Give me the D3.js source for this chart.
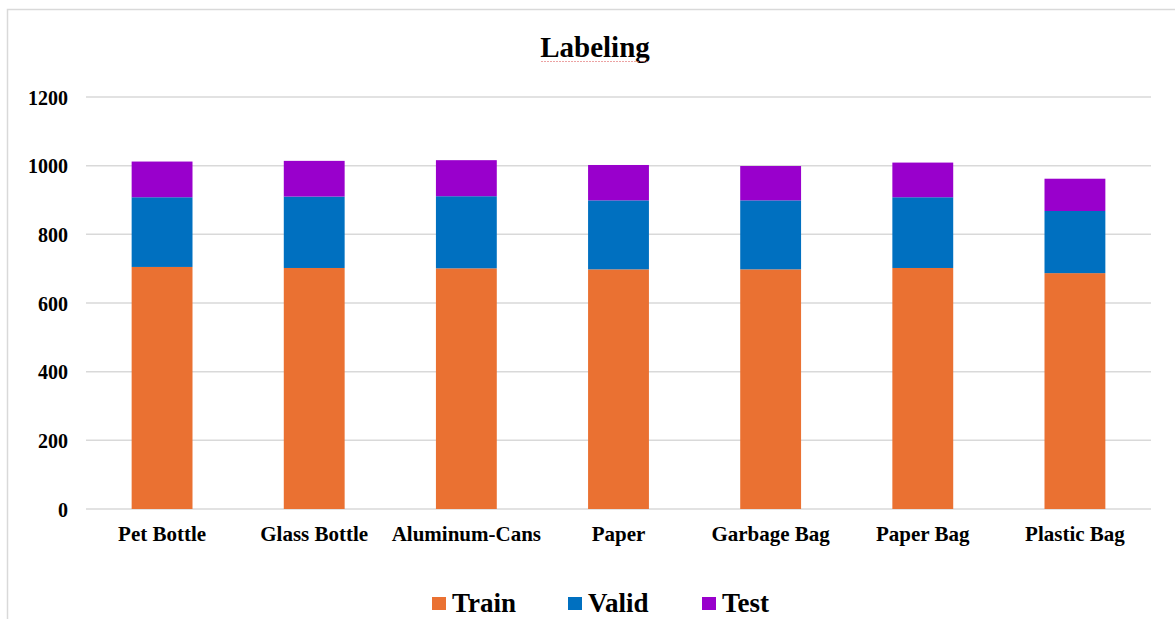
<!DOCTYPE html>
<html>
<head>
<meta charset="utf-8">
<script src="https://cdn.jsdelivr.net/npm/d3@7"></script>
<style>
  html, body { margin: 0; padding: 0; background: #fff; }
  svg { display: block; }
  text { font-family: "Liberation Serif", "Times New Roman", serif; font-weight: bold; fill: #000; }
</style>
</head>
<body>
<svg id="chart" width="1175" height="619"></svg>
<script>
// Image counts per class, split into train / valid / test
const categories = ["Pet Bottle", "Glass Bottle", "Aluminum-Cans", "Paper", "Garbage Bag", "Paper Bag", "Plastic Bag"];
const train = [705, 702, 701, 698, 698, 702, 687];
const valid = [203, 208, 210, 201, 201, 206, 181];
const test  = [104, 104, 105, 103, 100, 101, 94];
const seriesNames = ["Train", "Valid", "Test"];
const seriesColors = ["#ea7132", "#0070c0", "#9900cc"];
const yTicks = [0, 200, 400, 600, 800, 1000, 1200];

const svg = d3.select("#chart");
const W = 1175, H = 619;

// chart frame
svg.append("path")
  .attr("d", `M7.5,${H} V9.5 H${W}`)
  .attr("fill", "none").attr("stroke", "#d9d9d9").attr("stroke-width", 1.5);

const plot = { left: 86, right: 1151, top: 97, bottom: 509 };

const x = d3.scaleBand().domain(categories)
  .range([plot.left, plot.right]).paddingInner(0.6).paddingOuter(0.3);
const y = d3.scaleLinear().domain([0, 1200]).range([plot.bottom, plot.top]);

// gridlines
svg.append("g").selectAll("line").data(yTicks).join("line")
  .attr("x1", plot.left).attr("x2", plot.right)
  .attr("y1", d => y(d)).attr("y2", d => y(d))
  .attr("stroke", "#d9d9d9").attr("stroke-width", 1.5);

// y axis labels
const yAxis = d3.axisLeft(y).tickValues(yTicks).tickFormat(d3.format("d")).tickSize(0).tickPadding(0);
const gy = svg.append("g").attr("transform", `translate(68,0)`).call(yAxis);
gy.select(".domain").remove();
gy.selectAll("text").attr("font-size", 20).attr("dy", "0.35em")
  .style("font-family", "'Liberation Serif', serif").style("font-weight", "bold").attr("fill", "#000");

// stacked bars
const rows = categories.map((c, i) => ({ cat: c, Train: train[i], Valid: valid[i], Test: test[i] }));
const stack = d3.stack().keys(seriesNames)(rows);
svg.append("g").selectAll("g").data(stack).join("g")
  .attr("fill", (d, i) => seriesColors[i])
  .selectAll("rect").data(d => d).join("rect")
  .attr("x", d => x(d.data.cat))
  .attr("width", x.bandwidth())
  .attr("y", d => y(d[1]))
  .attr("height", d => y(d[0]) - y(d[1]));

// x axis labels
const xAxis = d3.axisBottom(x).tickSize(0).tickPadding(0);
const gx = svg.append("g").attr("transform", `translate(0,${plot.bottom + 32})`).call(xAxis);
gx.select(".domain").remove();
gx.selectAll("text").attr("font-size", 21).attr("dy", 0)
  .style("font-family", "'Liberation Serif', serif").style("font-weight", "bold").attr("fill", "#000");

// title
svg.append("text").attr("x", 595).attr("y", 57).attr("text-anchor", "middle")
  .attr("font-size", 29).text("Labeling");
svg.append("line").attr("x1", 541).attr("x2", 649).attr("y1", 61.5).attr("y2", 61.5)
  .attr("stroke", "#e06666").attr("stroke-opacity", 0.6).attr("stroke-width", 1)
  .attr("stroke-dasharray", "2,1");

// legend
const legendX = [432, 568, 702];
const lg = svg.append("g").selectAll("g").data(seriesNames).join("g")
  .attr("transform", (d, i) => `translate(${legendX[i]},597)`);
lg.append("rect").attr("width", 14).attr("height", 13)
  .attr("fill", (d, i) => seriesColors[i]);
lg.append("text").attr("x", 20).attr("y", 15).attr("font-size", 27).text(d => d);
</script>
</body>
</html>
